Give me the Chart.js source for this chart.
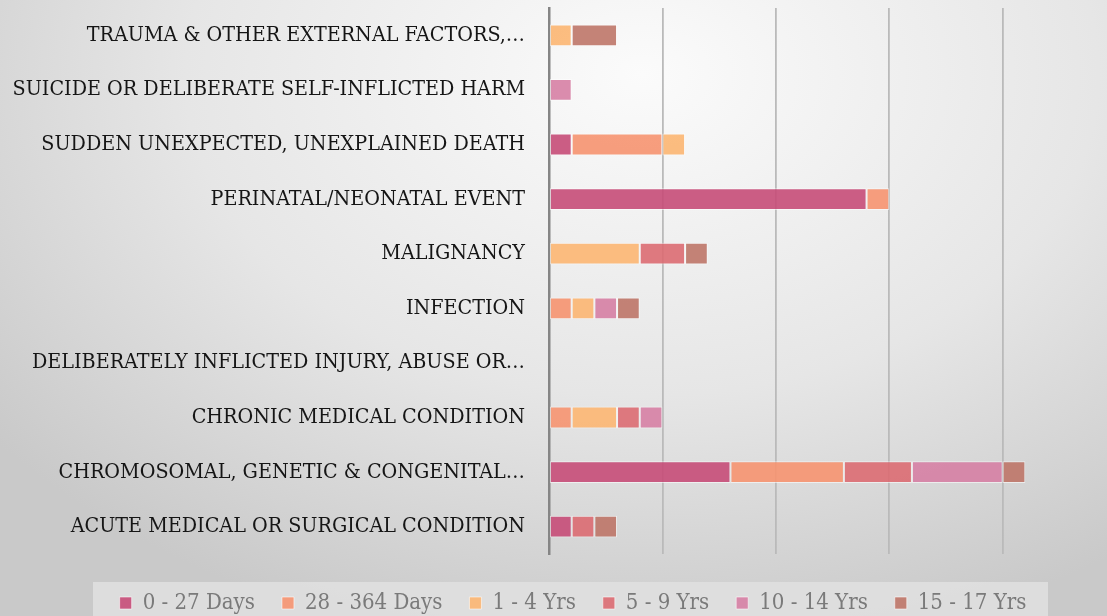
<!DOCTYPE html>
<html>
<head>
<meta charset="utf-8">
<script src="https://cdn.jsdelivr.net/npm/chart.js@4.4.1/dist/chart.umd.min.js"></script>
<style>
  html, body { margin: 0; padding: 0; }
  body {
    width: 1107px; height: 616px; overflow: hidden;
    background: radial-gradient(ellipse 75% 95% at 58% 12%, #fbfbfb 0%, #e6e6e6 55%, #c9c9c9 100%);
  }
  #wrap { position: relative; width: 1107px; height: 616px; }
</style>
</head>
<body>
<div id="wrap"><canvas id="causeChart" width="1107" height="616"></canvas></div>
<script>
var categories = [
  'TRAUMA & OTHER EXTERNAL FACTORS,…',
  'SUICIDE OR DELIBERATE SELF-INFLICTED HARM',
  'SUDDEN UNEXPECTED, UNEXPLAINED DEATH',
  'PERINATAL/NEONATAL EVENT',
  'MALIGNANCY',
  'INFECTION',
  'DELIBERATELY INFLICTED INJURY, ABUSE OR…',
  'CHRONIC MEDICAL CONDITION',
  'CHROMOSOMAL, GENETIC & CONGENITAL…',
  'ACUTE MEDICAL OR SURGICAL CONDITION'
];

var seriesNames = ['0 - 27 Days', '28 - 364 Days', '1 - 4 Yrs', '5 - 9 Yrs', '10 - 14 Yrs', '15 - 17 Yrs'];

var days0to27    = [0, 0, 1, 14, 0, 0, 0, 0, 8, 1];
var days28to364  = [0, 0, 4, 1, 0, 1, 0, 1, 5, 0];
var yrs1to4      = [1, 0, 1, 0, 4, 1, 0, 2, 0, 0];
var yrs5to9      = [0, 0, 0, 0, 2, 0, 0, 1, 3, 1];
var yrs10to14    = [0, 1, 0, 0, 0, 1, 0, 1, 4, 0];
var yrs15to17    = [2, 0, 0, 0, 1, 1, 0, 0, 1, 1];

var xTicks = [0, 5, 10, 15, 20];

var colors = [
  'rgba(198, 76, 120, 0.9)',
  'rgba(246, 148, 112, 0.9)',
  'rgba(252, 182, 114, 0.9)',
  'rgba(220, 108, 114, 0.9)',
  'rgba(214, 128, 164, 0.9)',
  'rgba(190, 118, 104, 0.9)'
];

var seriesData = [days0to27, days28to364, yrs1to4, yrs5to9, yrs10to14, yrs15to17];
var datasets = [];
for (var i = 0; i < seriesNames.length; i++) {
  datasets.push({
    label: seriesNames[i],
    data: seriesData[i],
    backgroundColor: colors[i],
    borderColor: 'rgba(255, 255, 255, 0.55)',
    borderWidth: 1,
    borderSkipped: false,
    categoryPercentage: 1,
    barPercentage: 0.4
  });
}

var fontFamily = "'DejaVu Serif Condensed', 'Liberation Serif', serif";

// grey box behind the legend
var legendBox = {
  id: 'legendBox',
  beforeDraw: function(chart) {
    var ctx = chart.ctx;
    ctx.save();
    ctx.fillStyle = 'rgba(225, 225, 225, 0.85)';
    ctx.fillRect(93, 582, 955, 40);
    ctx.restore();
  }
};

var ctx = document.getElementById('causeChart');
var barGraph = new Chart(ctx, {
  type: 'bar',
  data: { labels: categories, datasets: datasets },
  plugins: [legendBox],
  options: {
    indexAxis: 'y',
    responsive: false,
    animation: false,
    layout: { padding: { top: 8, right: -39, left: 0, bottom: -8 } },
    scales: {
      x: {
        stacked: true,
        min: 0,
        max: 24.6,
        afterBuildTicks: function(scale) {
          scale.ticks = xTicks.map(function(v) { return { value: v }; });
        },
        ticks: { display: false },
        grid: { color: '#bababa', lineWidth: 1.8, drawTicks: false },
        border: { display: false },
        afterFit: function(scale) {
          scale.height = 11;
          scale.paddingLeft = 0;
          scale.paddingRight = 0;
        }
      },
      y: {
        stacked: true,
        afterFit: function(scale) {
          scale.width = 549;
          scale.paddingTop = 0;
          scale.paddingBottom = 0;
        },
        ticks: {
          color: '#151515',
          padding: 24,
          font: { family: fontFamily, size: 21.3 }
        },
        grid: { display: false, drawTicks: false },
        border: { display: true, color: '#858585', width: 2.5 }
      }
    },
    plugins: {
      tooltip: { enabled: false },
      legend: {
        position: 'bottom',
        labels: {
          color: '#7a7a7a',
          boxWidth: 12,
          boxHeight: 12,
          padding: 27,
          font: { family: fontFamily, size: 22 }
        }
      }
    }
  }
});
</script>
</body>
</html>
